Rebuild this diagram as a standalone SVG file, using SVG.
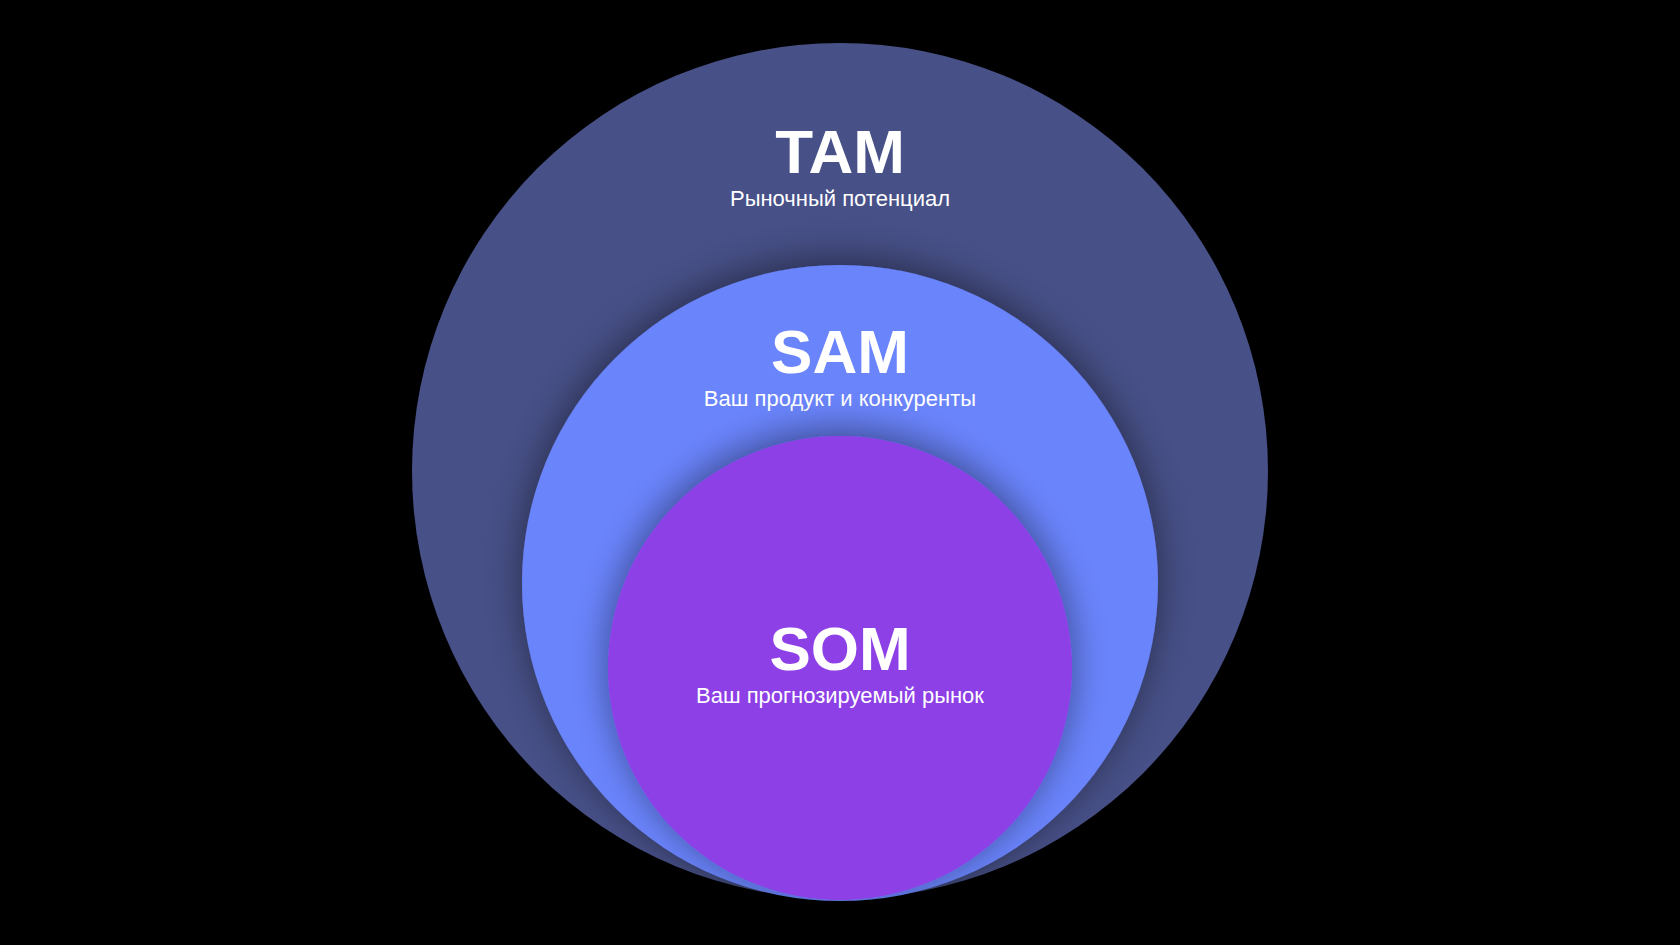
<svg xmlns="http://www.w3.org/2000/svg" width="1680" height="945" viewBox="0 0 1680 945">
<style>
.t{font-family:"Liberation Sans",Arial,sans-serif;fill:#fff;text-anchor:middle}
.h{font-size:62px;font-weight:bold}
.s{font-size:22px}
</style>
<defs>
<filter id="sh" x="-30%" y="-30%" width="160%" height="160%">
<feGaussianBlur in="SourceAlpha" stdDeviation="18"/>
<feOffset dy="-6"/>
<feComponentTransfer><feFuncA type="linear" slope="0.45"/></feComponentTransfer>
<feMerge><feMergeNode/><feMergeNode in="SourceGraphic"/></feMerge>
</filter>
</defs>
<rect width="1680" height="945" fill="#000"/>
<g id="tam">
<circle cx="840" cy="471" r="428" fill="#475087"/>
<text class="t h" x="840" y="173">TAM</text>
<text class="t s" x="840" y="206">Рыночный потенциал</text>
</g>
<g id="sam">
<circle cx="840" cy="583" r="318" fill="#6b84fc" filter="url(#sh)"/>
<text class="t h" x="840" y="373">SAM</text>
<text class="t s" x="840" y="406">Ваш продукт и конкуренты</text>
</g>
<g id="som">
<circle cx="840" cy="668" r="232" fill="#8d3fe6" filter="url(#sh)"/>
<text class="t h" x="840" y="670">SOM</text>
<text class="t s" x="840" y="703">Ваш прогнозируемый рынок</text>
</g>
<g id="connectors"/>
</svg>
